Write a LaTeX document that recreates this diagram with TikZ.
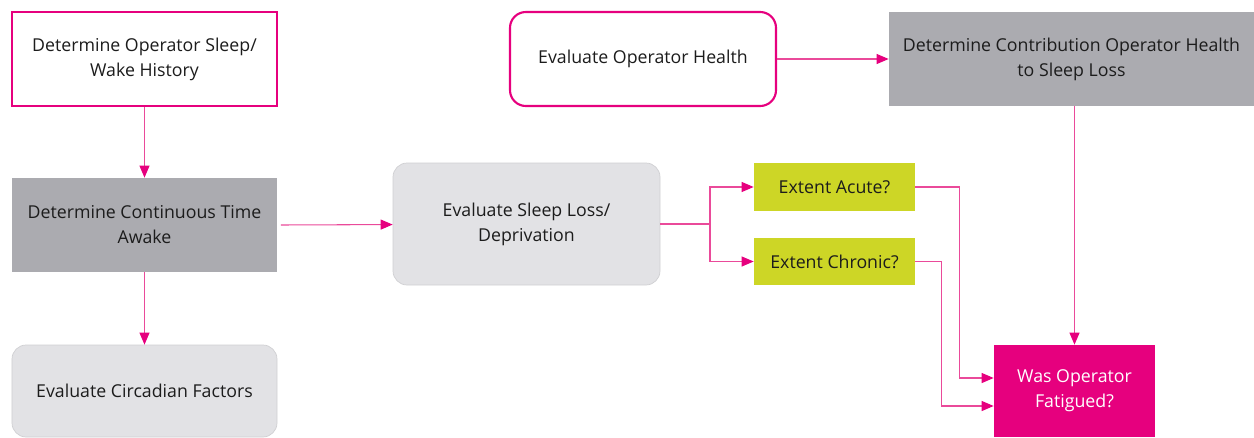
\documentclass[tikz,border=0pt]{standalone}
\usepackage{fontspec}
\setmainfont{Open Sans}
\usetikzlibrary{arrows.meta, positioning}
\usepackage{xcolor}
\definecolor{FlowMagenta}{RGB}{230, 0, 126}
\definecolor{FlowLine}{RGB}{234, 74, 154}
\definecolor{FlowGrey}{RGB}{171, 171, 176}
\definecolor{FlowLight}{RGB}{226, 226, 229}
\definecolor{FlowLime}{RGB}{205, 214, 38}
\definecolor{FlowText}{RGB}{28, 28, 28}

\begin{document}
\begin{tikzpicture}[
    outlined/.style={
        draw=FlowMagenta, line width=1.2pt, fill=white,
        minimum width=5.3cm, minimum height=1.88cm, align=center,
        font=\fontsize{10.1}{14.2}\selectfont, text=FlowText, inner sep=4pt
    },
    solidgrey/.style={
        fill=FlowGrey, minimum height=1.88cm, align=center,
        font=\fontsize{10.1}{14.2}\selectfont, text=FlowText, inner sep=4pt
    },
    softgrey/.style={
        fill=FlowLight, draw=FlowLight!92!black, line width=0.4pt,
        rounded corners=8pt, align=center,
        font=\fontsize{10.1}{14.2}\selectfont, text=FlowText, inner sep=4pt
    },
    extent/.style={
        fill=FlowLime, minimum width=3.22cm, minimum height=0.95cm,
        align=center, font=\fontsize{10.1}{14.2}\selectfont, text=FlowText
    },
    arr/.style={
        draw=FlowLine, line width=0.6pt,
        -{Triangle[length=0.24cm, width=0.2cm, color=FlowMagenta]}
    },
]
\useasboundingbox (0,0) rectangle (25.08,-8.74);

%% Left column
\node[outlined] (wake) at (2.89, -1.18)
    {Determine Operator Sleep/\\Wake History};
\node[solidgrey, minimum width=5.3cm] (awake) at (2.89, -4.5)
    {Determine Continuous Time\\Awake};
\node[softgrey, minimum width=5.3cm, minimum height=1.84cm] (circ) at (2.89, -7.82)
    {Evaluate Circadian Factors};

\draw[arr] (wake) -- (awake);
\draw[arr] (awake) -- (circ);

%% Sleep loss and its extent
\node[softgrey, minimum width=5.34cm, minimum height=2.44cm] (loss) at (10.53, -4.48)
    {Evaluate Sleep Loss/\\Deprivation};
\node[extent] (acute) at (16.69, -3.74) {Extent Acute?};
\node[extent] (chronic) at (16.69, -5.23) {Extent Chronic?};
\coordinate (split) at (14.2, -4.48);

\draw[arr] ([xshift=2pt]awake.east) -- (loss);
\draw[draw=FlowLine, line width=0.6pt] (loss.east) -- (split);
\draw[arr] (split) |- (acute);
\draw[arr] (split) |- (chronic);

%% Health branch
\node[outlined, rounded corners=9pt, minimum width=5.32cm] (health) at (12.86, -1.18)
    {Evaluate Operator Health};
\node[solidgrey, minimum width=7.3cm] (contrib) at (21.43, -1.18)
    {Determine Contribution Operator Health\\to Sleep Loss};

\draw[arr] (health) -- (contrib);

%% Outcome
\node[fill=FlowMagenta, minimum width=3.22cm, minimum height=1.84cm,
      align=center, font=\fontsize{10.1}{14.2}\selectfont, text=white]
      (fatigue) at (21.49, -7.82) {Was Operator\\Fatigued?};

\draw[arr] (contrib.south -| fatigue.north) -- (fatigue.north);
\draw[arr] (acute.east) -- ++(0.88, 0) |- ([yshift=0.26cm]fatigue.west);
\draw[arr] (chronic.east) -- ++(0.52, 0) |- ([yshift=-0.3cm]fatigue.west);

\end{tikzpicture}
\end{document}
